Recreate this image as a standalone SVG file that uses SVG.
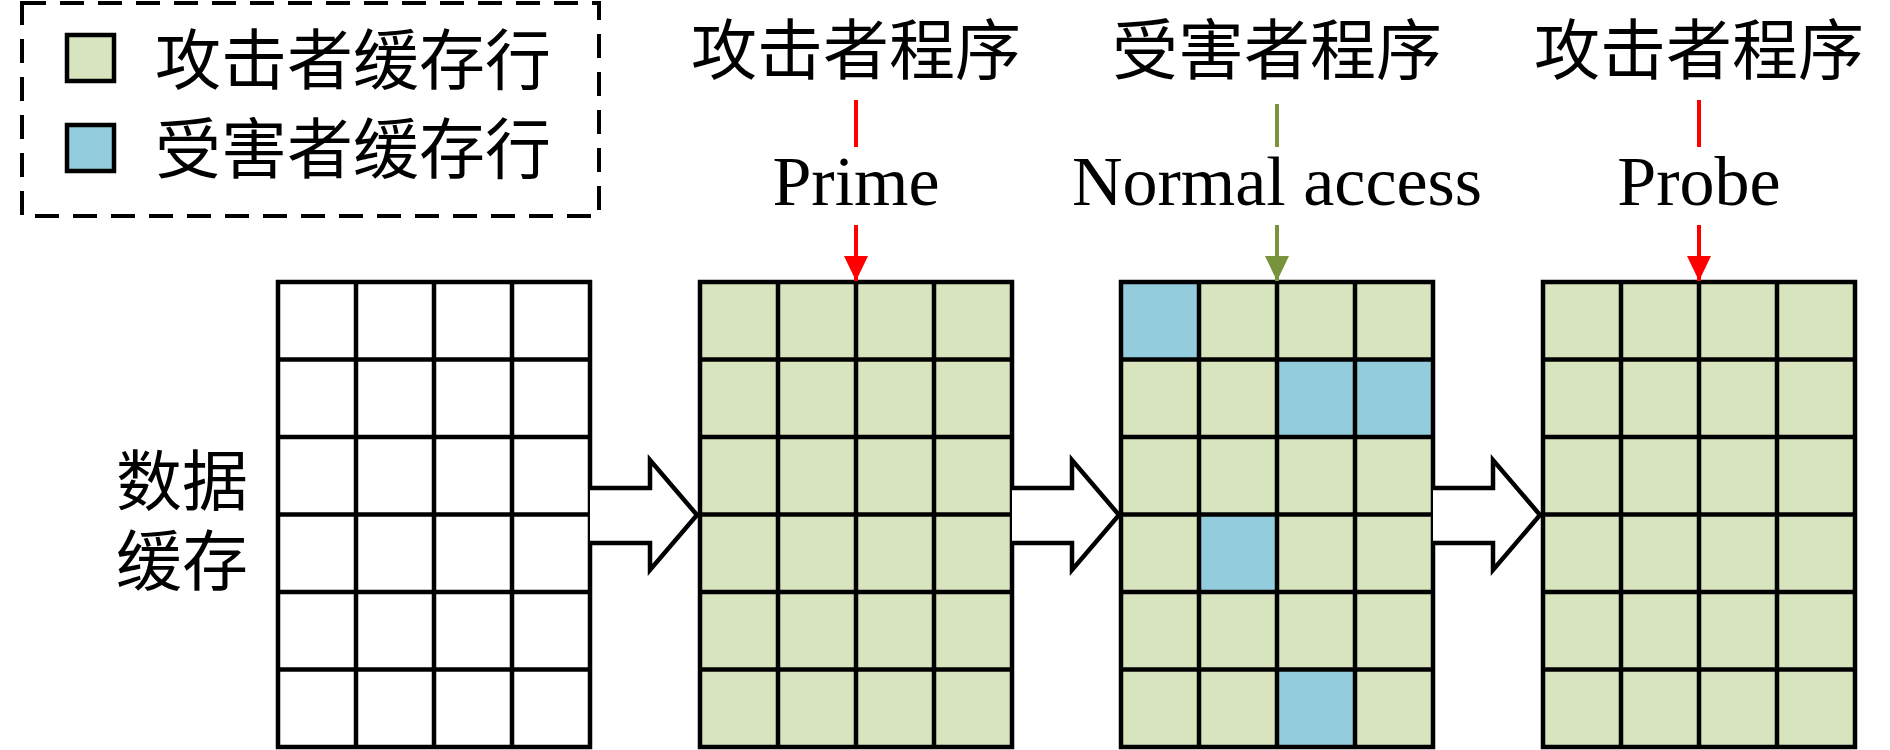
<svg xmlns="http://www.w3.org/2000/svg" width="1890" height="750" viewBox="0 0 1890 750">
<style>
.cjk{font-family:"Noto Sans CJK SC","Noto Sans CJK JP",sans-serif;font-size:66px;fill:#000}
.lat{font-family:"Liberation Serif","DejaVu Serif",serif;font-size:70px;fill:#000}
.g{fill:#D7E4BD}
.b{fill:#93CDDD}
.w{fill:#FFFFFF}
.grid{fill:none;stroke:#000;stroke-width:4.5}
.blk{fill:#FFFFFF;stroke:#000;stroke-width:4.5;stroke-linejoin:miter}
.red{stroke:#FF0000;stroke-width:4;fill:none}
.grn{stroke:#77933C;stroke-width:4;fill:none}
</style>
<defs>
<marker id="ahR" markerUnits="userSpaceOnUse" markerWidth="26" markerHeight="26" refX="25" refY="12" orient="auto"><path d="M0,0 L25,12 L0,24 z" fill="#FF0000"/></marker>
<marker id="ahG" markerUnits="userSpaceOnUse" markerWidth="26" markerHeight="26" refX="25" refY="12" orient="auto"><path d="M0,0 L25,12 L0,24 z" fill="#77933C"/></marker>
<g id="gridlines">
<path class="grid" d="M0,0 H312 V465 H0 Z M78,0 V465 M156,0 V465 M234,0 V465 M0,77.5 H312 M0,155 H312 M0,232.5 H312 M0,310 H312 M0,387.5 H312"/>
</g>
</defs>

<g id="legend">
<rect x="22" y="3" width="577" height="213" fill="none" stroke="#000" stroke-width="4" stroke-dasharray="24,14"/>
<rect x="67" y="35" width="47" height="46" class="g" stroke="#000" stroke-width="4.5"/>
<text x="155" y="84" class="cjk">攻击者缓存行</text>
<rect x="67" y="125" width="47" height="46" class="b" stroke="#000" stroke-width="4.5"/>
<text x="155" y="173" class="cjk">受害者缓存行</text>
</g>

<g id="label-data-cache">
<text class="cjk" text-anchor="middle"><tspan x="182" y="505">数据</tspan><tspan x="182" y="585">缓存</tspan></text>
</g>

<g id="grid1">
<rect x="278" y="282" width="312" height="465" class="w"/>
<use href="#gridlines" x="278" y="282"/>
</g>

<g id="grid2">
<rect x="700" y="282" width="312" height="465" class="g"/>
<use href="#gridlines" x="700" y="282"/>
</g>

<g id="grid3">
<rect x="1121" y="282" width="312" height="465" class="g"/>
<rect x="1121" y="282" width="78" height="77.5" class="b"/>
<rect x="1277" y="359.5" width="156" height="77.5" class="b"/>
<rect x="1199" y="514.5" width="78" height="77.5" class="b"/>
<rect x="1277" y="669.5" width="78" height="77.5" class="b"/>
<use href="#gridlines" x="1121" y="282"/>
</g>

<g id="grid4">
<rect x="1543" y="282" width="312" height="465" class="g"/>
<use href="#gridlines" x="1543" y="282"/>
</g>

<g id="step-prime">
<text x="856" y="74" class="cjk" text-anchor="middle">攻击者程序</text>
<text x="856" y="205" class="lat" text-anchor="middle">Prime</text>
</g>
<g id="step-normal">
<text x="1277" y="74" class="cjk" text-anchor="middle">受害者程序</text>
<text x="1277" y="205" class="lat" text-anchor="middle">Normal access</text>
</g>
<g id="step-probe">
<text x="1699" y="74" class="cjk" text-anchor="middle">攻击者程序</text>
<text x="1699" y="205" class="lat" text-anchor="middle">Probe</text>
</g>

<g id="connectors">
<line x1="856" y1="100" x2="856" y2="147" class="red"/>
<line x1="856" y1="225" x2="856" y2="281" class="red" marker-end="url(#ahR)"/>
<line x1="1277" y1="104" x2="1277" y2="147" class="grn"/>
<line x1="1277" y1="225" x2="1277" y2="281" class="grn" marker-end="url(#ahG)"/>
<line x1="1699" y1="100" x2="1699" y2="147" class="red"/>
<line x1="1699" y1="225" x2="1699" y2="281" class="red" marker-end="url(#ahR)"/>
<path class="blk" d="M590,488 H650 V460 L697,515 L650,570 V543 H590"/>
<path class="blk" d="M1012,488 H1072 V460 L1119,515 L1072,570 V543 H1012"/>
<path class="blk" d="M1433,488 H1493 V460 L1540,515 L1493,570 V543 H1433"/>
</g>
</svg>
